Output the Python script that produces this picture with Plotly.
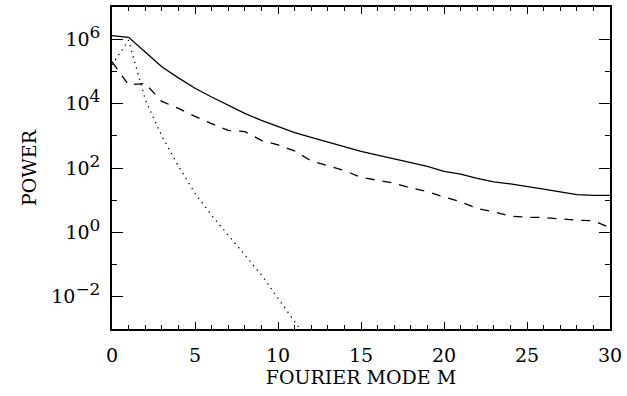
import plotly.graph_objects as go

mode_m = list(range(0, 31))
power_total = [1.3e6, 1.15e6, 4.0e5, 1.4e5, 6.3e4, 3.0e4, 1.6e4, 8.7e3, 5.0e3, 3.0e3,
               1.9e3, 1.25e3, 890, 630, 450, 330, 250, 190, 145, 112,
               79, 65, 48, 37, 32, 27, 22, 18, 14.8, 14.1, 14.1]
power_dashed = [2.0e5, 3.8e4, 4.2e4, 1.17e4, 7.1e3, 4.0e3, 2.4e3, 1.48e3, 1.35e3, 720,
                525, 340, 166, 117, 83, 51, 41, 34, 24, 18.6,
                12.6, 8.9, 5.5, 4.4, 3.2, 2.95, 2.9, 2.6, 2.4, 2.3, 1.4]
mode_dotted = list(range(0, 13))
power_dotted = [1.6e5, 9.3e5, 1.35e4, 980, 115, 16.6, 3.4, 0.85, 0.2, 0.048,
                0.0093, 0.0017, 3.2e-4]

x_ticks = [0, 5, 10, 15, 20, 25, 30]
y_tickvals = [1e-2, 1e0, 1e2, 1e4, 1e6]
y_exponents = ["−2", "0", "2", "4", "6"]
y_ticktext = ["10<sup><span style='font-size:17px'>%s</span></sup>" % e for e in y_exponents]
y_minor = [1e-3, 1e-1, 1e1, 1e3, 1e5, 1e7]

FONT = "DejaVu Serif"

fig = go.Figure()
fig.add_trace(go.Scatter(x=mode_m, y=power_total, mode="lines",
                         line=dict(color="black", width=1.3)))
fig.add_trace(go.Scatter(x=mode_m, y=power_dashed, mode="lines",
                         line=dict(color="black", width=1.3, dash="9px,8px")))
fig.add_trace(go.Scatter(x=mode_dotted, y=power_dotted, mode="lines",
                         line=dict(color="black", width=1.3, dash="1.3px,4.5px")))

fig.update_layout(
    width=627, height=396,
    margin=dict(l=112, r=13, t=5, b=67),
    paper_bgcolor="white", plot_bgcolor="white",
    showlegend=False,
    font=dict(family=FONT, size=19, color="black"),
    xaxis=dict(
        range=[0, 30], tickvals=x_ticks, ticks="inside", ticklen=7, tickwidth=1.3,
        tickcolor="black", showline=True, linecolor="black", linewidth=1.5,
        mirror="ticks", showgrid=False, zeroline=False, ticklabelstandoff=8,
        minor=dict(dtick=1, ticks="inside", ticklen=4, tickwidth=1.2, tickcolor="black", showgrid=False),
        title=dict(text="FOURIER MODE M", font=dict(family=FONT, size=19), standoff=6),
        tickfont=dict(family=FONT, size=19),
    ),
    yaxis=dict(
        type="log", range=[-3, 7], tickvals=y_tickvals, ticktext=y_ticktext,
        ticks="inside", ticklen=11, tickwidth=1.3, tickcolor="black",
        showline=True, linecolor="black", linewidth=1.5, mirror="ticks",
        showgrid=False, zeroline=False, ticklabelstandoff=6,
        minor=dict(tickvals=y_minor, ticks="inside", ticklen=5, tickwidth=1.2, tickcolor="black", showgrid=False),
        title=dict(text="POWER", font=dict(family=FONT, size=19), standoff=10),
        tickfont=dict(family=FONT, size=19),
    ),
)

fig.write_html("out.html", config={"displayModeBar": False},
               post_script="document.body.style.margin='0';")
